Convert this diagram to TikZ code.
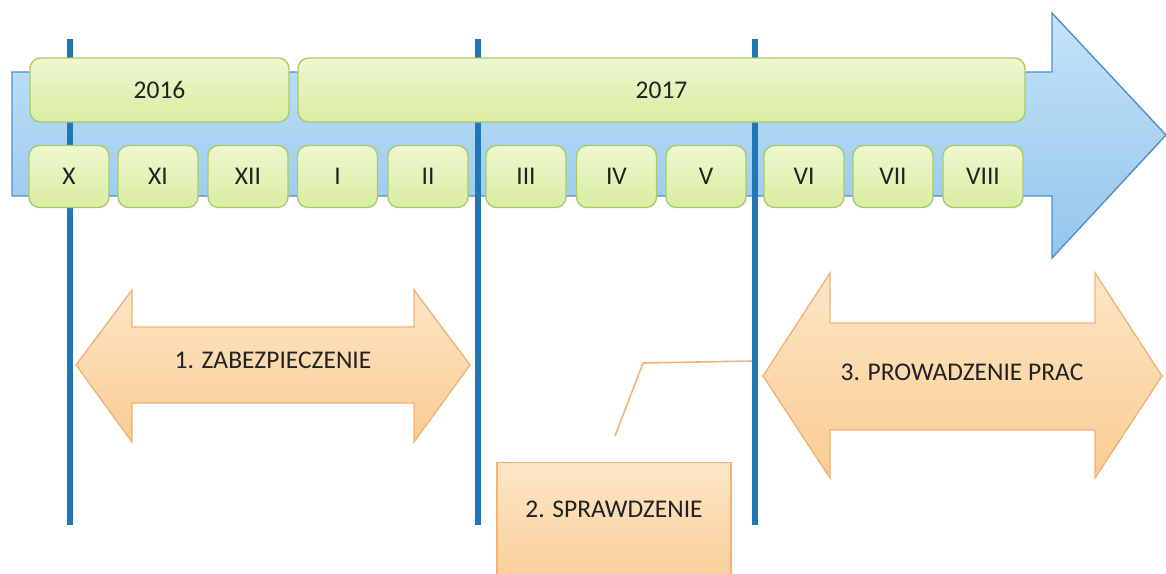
\documentclass[tikz,border=0pt]{standalone}
\usepackage{fontspec}
\setmainfont{Carlito}
\definecolor{limetop}{HTML}{EEF8CF}
\definecolor{limebot}{HTML}{D9EDA0}
\definecolor{limeedge}{HTML}{A9CB6E}
\definecolor{skytop}{HTML}{C4E3F8}
\definecolor{skybot}{HTML}{93C6EC}
\definecolor{skyedge}{HTML}{4F8FC9}
\definecolor{markblue}{HTML}{2176B5}
\definecolor{peachtop}{HTML}{FDE6C6}
\definecolor{peachbot}{HTML}{F9CC92}
\definecolor{peachedge}{HTML}{F3B277}
\definecolor{inkgray}{HTML}{222222}

\begin{document}
\begin{tikzpicture}[
    x=0.2mm, y=-0.2mm,
    timearrow/.style={
        draw=skyedge,
        line width=0.8pt,
        top color=skytop,
        bottom color=skybot
    },
    yearbox/.style={
        rectangle,
        rounded corners=6pt,
        minimum height=12.8mm,
        draw=limeedge,
        line width=0.8pt,
        top color=limetop,
        bottom color=limebot,
        text=inkgray,
        font=\fontsize{14.5}{17}\selectfont
    },
    monthbox/.style={
        yearbox,
        minimum width=16mm,
        minimum height=12.4mm
    },
    marker/.style={
        draw=markblue,
        line width=3.4pt
    },
    phase/.style={
        draw=peachedge,
        line width=0.8pt,
        top color=peachtop,
        bottom color=peachbot
    },
    phaselabel/.style={
        text=inkgray,
        font=\fontsize{14.5}{17}\selectfont
    },
    checkbox/.style={
        rectangle,
        minimum width=46.8mm,
        inner ysep=0pt,
        text height=11mm,
        text depth=16mm,
        draw=peachedge,
        line width=0.8pt,
        top color=peachtop,
        bottom color=peachbot,
        text=inkgray,
        font=\fontsize{14.5}{17}\selectfont
    }
]

\useasboundingbox (0,0) rectangle (1166,573);
\clip (0,0) rectangle (1166,573);
\fill[white] (0,0) rectangle (1166,573);

% Time arrow
\draw[timearrow] (12,72) -- (1052,72) -- (1052,13) -- (1166,135)
    -- (1052,258) -- (1052,196) -- (12,196) -- cycle;

% Milestones
\coordinate (starttop) at (70,39);
\coordinate (startbot) at (70,525);
\coordinate (checktop) at (478,39);
\coordinate (checkbot) at (478,525);
\coordinate (worktop) at (755,39);
\coordinate (workbot) at (755,525);

\draw[marker] (starttop) -- (startbot);
\draw[marker] (checktop) -- (checkbot);
\draw[marker] (worktop) -- (workbot);

% Years
\node[yearbox, minimum width=51.8mm] (y2016) at (159.5,90) {2016};
\node[yearbox, minimum width=145.4mm] (y2017) at (661.5,90) {2017};

% Months
\node[monthbox] (oct) at (69,176.5) {X};
\node[monthbox] (nov) at (158,176.5) {XI};
\node[monthbox] (dec) at (248,176.5) {XII};
\node[monthbox] (jan) at (337.5,176.5) {I};
\node[monthbox] (feb) at (428,176.5) {II};
\node[monthbox] (mar) at (526,176.5) {III};
\node[monthbox] (apr) at (616.5,176.5) {IV};
\node[monthbox] (may) at (706,176.5) {V};
\node[monthbox] (jun) at (804,176.5) {VI};
\node[monthbox] (jul) at (893,176.5) {VII};
\node[monthbox] (aug) at (983,176.5) {VIII};

% Phases
\draw[phase] (76,365) -- (132,290) -- (132,327) -- (414,327) -- (414,290)
    -- (470,365) -- (414,442) -- (414,403) -- (132,403) -- (132,442) -- cycle;
\node[phaselabel] (secure) at (273,360) {1. ZABEZPIECZENIE};

\draw[phase] (763,376) -- (830,273) -- (830,323) -- (1095,323) -- (1095,273)
    -- (1162,376) -- (1095,478) -- (1095,430) -- (830,430) -- (830,478) -- cycle;
\node[phaselabel] (works) at (962,372) {3. PROWADZENIE PRAC};

% Callout
\coordinate (calloutend) at (615,436);
\coordinate (calloutbend) at (643,363);
\coordinate (calloutstart) at (752,361);
\draw[peachedge, line width=0.9pt] (calloutstart) -- (calloutbend) -- (calloutend);

\node[checkbox, anchor=north] (check) at (614,462) {2. SPRAWDZENIE};

\end{tikzpicture}
\end{document}
